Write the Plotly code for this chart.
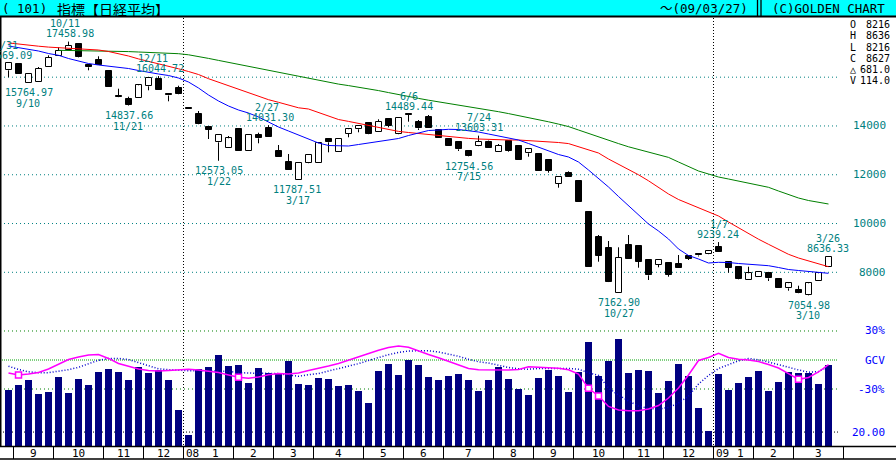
import plotly.graph_objects as go

W, H = 896, 460

# ---------------- data ----------------
weeks = list(range(83))

opens = [16280, 16540, 15765, 15802, 16405, 16856, 17127, 17373, 16512, 16704,
         16266, 15180, 15093, 15146, 15626, 15925, 15257, 15556, 14700, 14490,
         13970, 13330, 13084, 13863, 12986, 13629, 13904, 12973, 12535, 11787,
         12469, 12494, 13465, 12920, 13670, 13863, 14109, 13740, 14273, 13658,
         14470, 14175, 14380, 13834, 13453, 13330, 12986, 13178, 13355, 12920,
         13396, 13178, 12879, 12850, 12604, 11620, 12084, 11743, 10485, 9460,
         8996, 7163, 9107, 9078, 8504, 8300, 8369, 8340, 8668, 8738,
         8738, 9050, 8410, 8230, 7684, 7820, 7984, 7725, 7344, 7274,
         7086, 7656, 8216]
highs = [16569, 16560, 16130, 16417, 16897, 17225, 17459, 17400, 16512, 16856,
         16270, 15528, 15200, 15680, 15990, 16045, 15257, 15650, 14700, 14613,
         13980, 13640, 13588, 13870, 13629, 13724, 14031, 13219, 12850, 12490,
         12820, 13300, 13470, 13465, 13870, 14020, 14115, 14273, 14280, 14320,
         14489, 14244, 14449, 13840, 13460, 13340, 12990, 13603, 13400, 13260,
         13410, 13185, 13050, 12855, 12610, 11900, 12141, 11750, 10490, 9529,
         9283, 9025, 9529, 9085, 8510, 8510, 8380, 8709, 8680, 8750,
         8880, 9239, 8420, 8240, 8230, 8030, 7990, 7730, 7555, 7451,
         7560, 7980, 8636]
lows = [15995, 16130, 15765, 15800, 16405, 16856, 17127, 16800, 16282, 16500,
        15585, 15170, 14838, 15140, 15462, 15480, 15011, 15300, 14683, 14070,
        13465, 12573, 13080, 12986, 12980, 13289, 13550, 12730, 12190, 11787,
        12460, 12490, 12920, 12915, 13535, 13740, 13650, 13735, 13945, 13650,
        14175, 13834, 13920, 13510, 13185, 12973, 12755, 13170, 13080, 12915,
        12945, 12600, 12740, 12160, 12084, 11469, 11890, 10890, 8225, 8435,
        7600, 7163, 8550, 8189, 7684, 8205, 7820, 8180, 8504, 8650,
        8730, 8815, 7984, 7700, 7680, 7815, 7643, 7365, 7246, 7130,
        7055, 7650, 8216]
closes = [16569, 16134, 16130, 16335, 16786, 17085, 17291, 16815, 16405, 16512,
          15585, 15175, 14872, 15667, 15966, 15487, 15250, 15310, 14683, 14080,
          13834, 13629, 13494, 12986, 13629, 13494, 13560, 12740, 12194, 12481,
          12809, 13289, 13330, 13465, 13863, 14011, 13658, 14175, 13998, 14314,
          14465, 13904, 13929, 13519, 13191, 13043, 12768, 13355, 13084, 13178,
          12986, 12604, 13043, 12166, 12166, 11895, 11895, 10895, 8230, 8668,
          7615, 8586, 8557, 8435, 7877, 8504, 7889, 8189, 8545, 8690,
          8873, 8820, 8189, 7713, 7959, 8025, 7754, 7369, 7549, 7139,
          7549, 7959, 8627]

ma_blue = [17278, 17209, 17135, 17073, 16971, 16897, 16766, 16663, 16561, 16499,
           16458, 16417, 16356, 16274, 16192, 16130, 16069, 15966, 15802, 15556,
           15269, 15023, 14818, 14654, 14531, 14367, 14162, 13957, 13793, 13629,
           13445, 13301, 13199, 13178, 13178, 13240, 13301, 13342, 13424, 13486,
           13609, 13711, 13814, 13834, 13863, 13855, 13806, 13752, 13670, 13588,
           13527, 13424, 13281, 13137, 12994, 12830, 12727, 12522, 12194, 11846,
           11497, 11108, 10739, 10370, 9980, 9693, 9365, 8955, 8689, 8545,
           8381, 8410, 8402, 8361, 8328, 8299, 8271, 8197, 8115, 8074,
           8033, 7992, 7959]
ma_red = [17405, 17352, 17311, 17270, 17233, 17205, 17180, 17164, 17143, 17114,
          17053, 16971, 16868, 16749, 16651, 16569, 16446, 16344, 16233, 16110,
          15938, 15790, 15655, 15507, 15360, 15212, 15077, 14970, 14868, 14745,
          14695, 14552, 14388, 14265, 14187, 14105, 14027, 13945, 13863, 13777,
          13732, 13691, 13650, 13601, 13543, 13515, 13490, 13465, 13445, 13424,
          13424, 13424, 13404, 13383, 13359, 13322, 13277, 13158, 13014, 12891,
          12645, 12440, 12227, 11998, 11752, 11485, 11210, 10985, 10821, 10636,
          10489, 10308, 10062, 9816, 9570, 9357, 9148, 8943, 8738, 8586,
          8463, 8361, 8230]
ma_green = [None, None, None, None, None, 17102, 17098, 17094, 17090, 17086,
            17073, 17061, 17049, 17032, 17016, 17000, 16987, 16963, 16918, 16852,
            16770, 16688, 16606, 16524, 16446, 16364, 16282, 16204, 16126, 16048,
            15966, 15876, 15790, 15716, 15655, 15593, 15532, 15450, 15368, 15282,
            15208, 15130, 15056, 14991, 14929, 14868, 14806, 14732, 14658, 14585,
            14507, 14429, 14351, 14265, 14171, 14076, 13974, 13834, 13691, 13535,
            13404, 13277, 13146, 13031, 12924, 12822, 12711, 12522, 12338, 12153,
            12030, 11907, 11825, 11743, 11661, 11579, 11485, 11333, 11190, 11046,
            10944, 10870, 10800]

volume = [79.0, 86.0, 93.0, 73.4, 76.2, 97.2, 74.8, 94.4, 86.0, 104.3,
          108.5, 104.3, 93.0, 111.3, 102.9, 107.0, 93.0, 51.0, 15.9, 108.5,
          111.3, 128.0, 112.7, 114.0, 88.8, 110.0, 102.9, 102.9, 119.6, 87.4,
          86.0, 95.8, 94.4, 84.6, 86.0, 77.6, 60.8, 105.7, 115.4, 100.0,
          121.0, 114.0, 97.2, 93.0, 98.6, 101.4, 93.0, 77.6, 93.0, 111.3,
          94.4, 80.4, 72.0, 95.8, 107.0, 98.6, 76.2, 104.3, 146.3, 98.6,
          120.0, 150.5, 103.3, 107.0, 105.6, 75.2, 91.6, 115.0, 98.6, 54.1,
          21.9, 101.8, 79.0, 89.2, 97.2, 105.6, 78.0, 90.6, 104.6, 103.3,
          103.3, 87.4, 114.0]

gcv = [-13.4, -15.5, -14.5, -12.9, -9.3, -4.1, 0.5, 3.1, 5.2, 5.7,
       1.6, -3.6, -6.7, -9.3, -10.9, -11.4, -10.9, -10.3, -9.6, -10.3,
       -11.6, -12.9, -15.5, -17.9, -18.9, -17.6, -15.2, -14.0, -14.5, -13.4,
       -10.9, -8.8, -6.2, -3.6, 0.0, 3.1, 6.7, 10.0, 12.9, 14.5,
       13.2, 9.1, 5.7, 2.3, -1.2, -4.9, -8.8, -10.1, -10.3, -10.3,
       -10.3, -9.8, -7.0, -7.4, -8.0, -8.5, -10.1, -14.5, -29.3, -37.2,
       -48.0, -51.7, -52.4, -52.4, -50.7, -47.1, -39.3, -29.0, -15.5, -0.5,
       2.6, 6.9, 2.6, 0.7, 0.0, -1.6, -4.7, -8.3, -14.0, -20.0,
       -18.1, -12.4, -4.7]
gcv_avg = [-6.4, -9.8, -12.2, -13.1, -13.1, -11.9, -10.0, -7.6, -4.1, -0.3,
           1.6, 1.6, 0.5, -2.9, -6.2, -9.1, -10.0, -10.7, -11.1, -11.1,
           -11.1, -11.2, -11.7, -13.1, -13.8, -13.8, -13.8, -14.1, -15.5, -16.8,
           -15.2, -14.0, -11.4, -9.0, -6.2, -3.8, -0.5, 2.8, 5.5, 7.8,
           9.3, 9.6, 9.5, 8.3, 6.2, 3.8, 0.8, -1.9, -3.1, -5.5,
           -7.8, -9.1, -9.5, -8.8, -8.6, -8.6, -8.7, -9.5, -13.2, -16.0,
           -29.0, -36.2, -42.4, -47.6, -50.2, -50.7, -49.1, -44.5, -37.2, -24.8,
           -16.0, -8.8, -4.7, -0.8, 1.6, 0.2, -2.1, -5.0, -7.8, -10.3,
           -12.6, -11.9, -6.7]
signal_weeks = [1, 23, 58, 59, 79]

label_weeks = [0, 6, 2, 15, 12, 26, 21, 29, 40, 47, 46, 61, 80, 71, 82]
label_values = [16569.09, 17458.98, 15764.97, 16044.72, 14837.66, 14031.30, 12573.05,
                11787.51, 14489.44, 13603.31, 12754.56, 7162.90, 7054.98, 9239.24, 8636.33]
label_dates = ["8/31", "10/11", "9/10", "12/11", "11/21", "2/27", "1/22",
               "3/17", "6/6", "7/24", "7/15", "10/27", "3/10", "1/7", "3/26"]
label_kinds = ["H", "H", "L", "H", "L", "H", "L", "L", "H", "H", "L", "L", "L", "H", "H"]

month_bounds = [0.5, 4.5, 9.5, 13.5, 17.5, 22.5, 26.5, 30.5, 35.5, 39.5, 43.5,
                48.5, 52.5, 56.5, 61.5, 65.5, 70.5, 74.5, 78.5, 83.5]
month_labels = ["9", "10", "11", "12", "1", "2", "3", "4", "5", "6", "7",
                "8", "9", "10", "11", "12", "1", "2", "3"]
year_bounds = [17.5, 70.5]
year_labels = ["08", "09"]

price_grid = [8000, 10000, 12000, 14000, 16000]
price_tick_labels = [8000, 10000, 12000, 14000]

info_keys = ["O", "H", "L", "C", "\u25b3", "V"]
info_vals = ["8216", "8636", "8216", "8627", "681.0", "114.0"]

# ---------------- geometry helpers (styling only) ----------------
def xp(px):
    return px / W

def yp(px):
    return 1 - px / H

def idx_to_px(i):
    return 8.5 + 10 * i

TEAL = "#008080"
MONO = "DejaVu Sans Mono"

fig = go.Figure()

# volume bars
fig.add_trace(go.Bar(x=weeks, y=volume, yaxis="y2", width=0.7,
                     marker=dict(color="#000080", line=dict(width=0)),
                     hoverinfo="skip"))

# candle bodies
body_base = [min(o, c) for o, c in zip(opens, closes)]
body_h = [max(abs(c - o), 45) for o, c in zip(opens, closes)]
fills = ["white" if c >= o else "black" for o, c in zip(opens, closes)]
fig.add_trace(go.Bar(x=weeks, y=body_h, base=body_base, yaxis="y", width=0.6,
                     marker=dict(color=fills, line=dict(color="black", width=1)),
                     hoverinfo="skip"))

# wicks (outside the bodies)
wx, wy = [], []
for i, o, h, l, c in zip(weeks, opens, highs, lows, closes):
    top, bot = max(o, c), min(o, c)
    if h > top:
        wx += [i, i, None]
        wy += [h, top, None]
    if l < bot:
        wx += [i, i, None]
        wy += [bot, l, None]
fig.add_trace(go.Scatter(x=wx, y=wy, mode="lines", yaxis="y",
                         line=dict(color="black", width=1), hoverinfo="skip"))

# moving averages
for ma, col in ((ma_green, "#008000"), (ma_red, "#FF0000"), (ma_blue, "#0000FF")):
    fig.add_trace(go.Scatter(x=weeks, y=ma, mode="lines", yaxis="y",
                             line=dict(color=col, width=1), hoverinfo="skip",
                             connectgaps=False))

# GCV lines
fig.add_trace(go.Scatter(x=weeks, y=gcv_avg, mode="lines", yaxis="y3",
                         line=dict(color="#0000CC", width=1.5, dash="1px,2px"),
                         hoverinfo="skip"))
fig.add_trace(go.Scatter(x=weeks, y=gcv, mode="lines", yaxis="y3",
                         line=dict(color="#FF00FF", width=1.5), hoverinfo="skip"))
fig.add_trace(go.Scatter(x=signal_weeks, y=[gcv[i] for i in signal_weeks],
                         mode="markers", yaxis="y3",
                         marker=dict(symbol="square", size=6, color="white",
                                     line=dict(color="#FF00FF", width=1.5)),
                         hoverinfo="skip"))

shapes = []
annotations = []

# header bar
shapes.append(dict(type="rect", xref="paper", yref="paper", x0=0, x1=1,
                   y0=yp(16), y1=1, fillcolor="#00FFFF", line=dict(width=0),
                   layer="below"))
shapes.append(dict(type="line", xref="paper", yref="paper", x0=0, x1=1,
                   y0=yp(16.5), y1=yp(16.5), line=dict(color="black", width=2)))
for xx in (757.5, 761):
    shapes.append(dict(type="line", xref="paper", yref="paper", x0=xp(xx), x1=xp(xx),
                       y0=yp(0), y1=yp(16), line=dict(color="black", width=1.3)))
# left border
shapes.append(dict(type="line", xref="paper", yref="paper", x0=xp(0.75), x1=xp(0.75),
                   y0=yp(17), y1=yp(459), line=dict(color="black", width=1.5)))

grid_x1 = xp(838)
# price grid lines
for p in price_grid:
    shapes.append(dict(type="line", xref="paper", yref="y", x0=0, x1=grid_x1,
                       y0=p, y1=p, line=dict(color=TEAL, width=1, dash="1px,3px"),
                       layer="below"))
# volume-panel grid lines
for g, col, dash in ((30, "#008000", "1px,3px"), (0, "#00A000", "1px,1px"),
                     (-30, "#008000", "1px,3px")):
    shapes.append(dict(type="line", xref="paper", yref="y3", x0=0, x1=grid_x1,
                       y0=g, y1=g, line=dict(color=col, width=1, dash=dash),
                       layer="below"))
shapes.append(dict(type="line", xref="paper", yref="y2", x0=0, x1=grid_x1,
                   y0=20, y1=20, line=dict(color="black", width=1, dash="1px,2px"),
                   layer="below"))
# year boundary lines
for b in year_bounds:
    xx = idx_to_px(b)
    shapes.append(dict(type="line", xref="paper", yref="paper", x0=xp(xx), x1=xp(xx),
                       y0=yp(18), y1=yp(446), line=dict(color="black", width=1, dash="1px,2px"),
                       layer="below"))

# bottom date strip
shapes.append(dict(type="rect", xref="paper", yref="paper", x0=0, x1=1,
                   y0=yp(459), y1=yp(446), fillcolor="white", line=dict(width=0)))
for yy in (446.5, 459):
    shapes.append(dict(type="line", xref="paper", yref="paper", x0=0, x1=1,
                       y0=yp(yy), y1=yp(yy), line=dict(color="black", width=1.5)))
for b in month_bounds:
    xx = idx_to_px(b)
    shapes.append(dict(type="line", xref="paper", yref="paper", x0=xp(xx), x1=xp(xx),
                       y0=yp(446), y1=yp(459), line=dict(color="black", width=1)))

for k, lab in enumerate(month_labels):
    a, b = month_bounds[k], month_bounds[k + 1]
    left = idx_to_px(a)
    if a in year_bounds:
        left += 14
    cx = (left + idx_to_px(b)) / 2
    annotations.append(dict(text=lab, xref="paper", yref="paper", x=xp(cx), y=yp(453),
                            xanchor="center", yanchor="middle", showarrow=False,
                            borderpad=0,
                            font=dict(family=MONO, size=11, color="black")))
for b, lab in zip(year_bounds, year_labels):
    annotations.append(dict(text=lab, xref="paper", yref="paper", x=xp(idx_to_px(b) + 1),
                            y=yp(453), xanchor="left", yanchor="middle", showarrow=False,
                            borderpad=0,
                            font=dict(family=MONO, size=11, color="black")))

# high / low labels
label_dx = [(-2.5, -0.5), (-3.5, 1.5), (-0.5, 0), (-5.5, 1), (-1, 0.5), (-1.5, 1),
            (0, 0.5), (-0.5, -1.5), (0, 0), (0, 0), (0, 0), (0, 0), (-0.5, 0),
            (0.5, -0.5), (-0.5, -0.5)]
for w, v, d, kind, (ddx, vdx) in zip(label_weeks, label_values, label_dates,
                                      label_kinds, label_dx):
    if kind == "H":
        dshift, vshift = 18, 8
    else:
        dshift, vshift = -20.5, -10
    annotations.append(dict(text=d, x=w, y=v, xref="x", yref="y", xshift=ddx,
                            yshift=dshift, showarrow=False, xanchor="center",
                            yanchor="middle", borderpad=0,
                            font=dict(family=MONO, size=10, color=TEAL)))
    annotations.append(dict(text=f"{v:.2f}", x=w, y=v, xref="x", yref="y", xshift=vdx,
                            yshift=vshift, showarrow=False, xanchor="center",
                            yanchor="middle", borderpad=0,
                            font=dict(family=MONO, size=10, color=TEAL)))

# price tick labels
for p in price_tick_labels:
    annotations.append(dict(text=str(p), xref="paper", yref="y", x=xp(888), y=p,
                            xanchor="right", yanchor="middle", showarrow=False,
                            font=dict(family=MONO, size=11, color=TEAL)))
# volume panel labels
for txt, yref, yv in (("30%", "y3", 30), ("GCV", "y3", 0), ("-30%", "y3", -30),
                      ("20.00", "y2", 20)):
    annotations.append(dict(text=txt, xref="paper", yref=yref, x=xp(887), y=yv,
                            xanchor="right", yanchor="middle", showarrow=False,
                            font=dict(family=MONO, size=11, color="#0000FF")))

# OHLC info block
for k, (key, val) in enumerate(zip(info_keys, info_vals)):
    yy = 24.5 + k * 11.3
    annotations.append(dict(text=key, xref="paper", yref="paper", x=xp(849), y=yp(yy),
                            xanchor="left", yanchor="middle", showarrow=False,
                            borderpad=0,
                            font=dict(family=MONO, size=10, color="black")))
    annotations.append(dict(text=val, xref="paper", yref="paper", x=xp(891), y=yp(yy),
                            xanchor="right", yanchor="middle", showarrow=False,
                            borderpad=0,
                            font=dict(family=MONO, size=10, color="black")))

# header texts
annotations.append(dict(text="( 101)", xref="paper", yref="paper", x=xp(1), y=yp(8.8),
                        xanchor="left", yanchor="middle", showarrow=False, borderpad=0,
                        font=dict(family=MONO, size=12.5, color="black")))
annotations.append(dict(text="指標【日経平均】", xref="paper", yref="paper", x=xp(56),
                        y=yp(9.2), xanchor="left", yanchor="middle", showarrow=False,
                        borderpad=0,
                        font=dict(family="Noto Sans CJK JP", size=14, color="black")))
annotations.append(dict(text="〜(09/03/27)", xref="paper", yref="paper", x=xp(749),
                        y=yp(8.8), xanchor="right", yanchor="middle", showarrow=False,
                        borderpad=0,
                        font=dict(family=MONO + ", Noto Sans CJK JP", size=12.5, color="black")))
annotations.append(dict(text="(C)GOLDEN CHART", xref="paper", yref="paper", x=xp(771),
                        y=yp(8.8), xanchor="left", yanchor="middle", showarrow=False,
                        borderpad=0,
                        font=dict(family=MONO, size=12.5, color="black")))

fig.update_layout(
    width=W, height=H,
    margin=dict(l=0, r=0, t=0, b=0, pad=0),
    paper_bgcolor="white", plot_bgcolor="rgba(0,0,0,0)",
    showlegend=False, barmode="overlay", bargap=0,
    xaxis=dict(range=[-0.85, 88.75], domain=[0, 1], visible=False, fixedrange=True),
    yaxis=dict(domain=[yp(300), yp(18)], range=[6864.3, 18426.3], visible=False,
               fixedrange=True),
    yaxis2=dict(domain=[yp(446), yp(318)], range=[0.42, 180.08], visible=False,
                anchor="x", fixedrange=True),
    yaxis3=dict(overlaying="y2", range=[-88.93, 43.43], visible=False, anchor="x",
                fixedrange=True),
    shapes=shapes, annotations=annotations,
)

fig.write_html("out.html", config={"displayModeBar": False})

# remove the browser's default page margin so the figure sits at the top-left corner
with open("out.html", "r", encoding="utf-8") as f:
    html = f.read()
html = html.replace("<head>", "<head><style>html,body{margin:0;padding:0;overflow:hidden;}</style>", 1)
with open("out.html", "w", encoding="utf-8") as f:
    f.write(html)
